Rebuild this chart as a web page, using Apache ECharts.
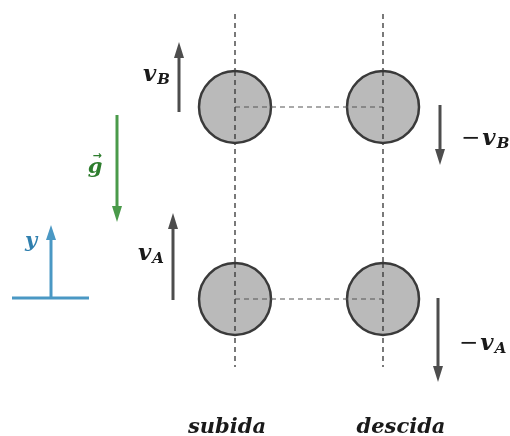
<!DOCTYPE html>
<html><head><meta charset="utf-8">
<script src="https://cdn.jsdelivr.net/npm/echarts@6/dist/echarts.min.js"></script>
<style>html,body{margin:0;padding:0;background:#fff}#c{width:510px;height:436px}</style>
</head><body><div id="c"></div>
<script>
// Diagram data (units: diagram units, y pointing up)
const columns = ['subida', 'descida'];
const columnX = [23.5, 38.3];
const levels = ['A', 'B'];
const levelY = [13.7, 32.9];
const guideTop = [42.2, 42.2];
const guideBottom = [6.9, 6.9];
const ballRadius = 3.6;
// velocity arrows: [x, yStart, yEnd]
const upArrows = [[17.3, 13.6, 22.3], [17.9, 32.4, 39.4]];
const downArrows = [[43.8, 13.8, 5.4], [44.0, 33.1, 27.1]];
const upLabels = ['A', 'B'];
const gravityArrow = [11.7, 32.1, 21.4];
const yAxisArrow = [5.1, 13.8, 21.1];
const yAxisBase = [1.2, 8.9, 13.8];

const chart = echarts.init(document.getElementById('c'));
const mathFont = '"DejaVu Serif", serif';

function arrowShape(api, a, color, width, headLen, headW) {
  const p0 = api.coord([a[0], a[1]]);
  const p1 = api.coord([a[0], a[2]]);
  const dir = p1[1] > p0[1] ? 1 : -1;
  const baseY = p1[1] - dir * headLen;
  return [
    {type: 'line', shape: {x1: p0[0], y1: p0[1], x2: p1[0], y2: baseY}, style: {stroke: color, lineWidth: width}},
    {type: 'polygon', shape: {points: [[p1[0], p1[1]], [p1[0] - headW / 2, baseY], [p1[0] + headW / 2, baseY]]}, style: {fill: color}}
  ];
}
function vlabel(prefix, sub, x, y, align) {
  const txt = (prefix ? '{m|' + prefix + '}' : '') + '{v|v}{s|' + sub + '}';
  return {type: 'text', style: {
    text: txt, x: x, y: y, textAlign: align, textVerticalAlign: 'middle',
    rich: {m: {font: '23px ' + mathFont, fill: '#1a1a1a', padding: [0, 2, 0, 0]},
           v: {font: 'italic bold 23px ' + mathFont, fill: '#1a1a1a'},
           s: {font: 'italic bold 15px ' + mathFont, fill: '#1a1a1a', padding: [10, 0, 0, 1]}}
  }};
}

const option = {
  animation: false,
  grid: {left: 0, right: 0, top: 0, bottom: 0},
  xAxis: {type: 'value', min: 0, max: 51, show: false},
  yAxis: {type: 'value', min: 0, max: 43.6, show: false},
  series: [
    { // vertical guides
      type: 'custom', data: columns.map((c, i) => [columnX[i], guideTop[i], guideBottom[i]]),
      renderItem: (p, api) => {
        const a = api.coord([api.value(0), api.value(1)]), b = api.coord([api.value(0), api.value(2)]);
        return {type: 'line', shape: {x1: a[0], y1: a[1], x2: b[0], y2: b[1]}, style: {stroke: '#333', lineWidth: 1.3, lineDash: [5, 4]}};
      }
    },
    { // balls
      type: 'custom', data: levels.flatMap((l, j) => columns.map((c, i) => [columnX[i], levelY[j]])),
      renderItem: (p, api) => {
        const c = api.coord([api.value(0), api.value(1)]);
        const r = api.size([ballRadius, 0])[0];
        return {type: 'circle', shape: {cx: c[0], cy: c[1], r: r}, style: {fill: '#bababa', stroke: '#3a3a3a', lineWidth: 2.5}};
      }
    },
    { // guides redrawn over balls + horizontal dashed lines
      type: 'custom', data: levels.map((l, j) => [levelY[j]]),
      renderItem: (p, api) => {
        const y = api.value(0);
        const a = api.coord([columnX[0], y]), b = api.coord([columnX[1], y]);
        const els = [{type: 'line', shape: {x1: a[0], y1: a[1], x2: b[0], y2: b[1]}, style: {stroke: '#555', lineWidth: 1.2, lineDash: [5, 4]}}];
        columns.forEach((c, i) => {
          const t = api.coord([columnX[i], y + ballRadius]), u = api.coord([columnX[i], y - ballRadius]);
          els.push({type: 'line', shape: {x1: t[0], y1: t[1], x2: u[0], y2: u[1]}, style: {stroke: '#333', lineWidth: 1.3, lineDash: [5, 4]}});
        });
        return {type: 'group', children: els};
      }
    },
    { // up arrows (subida)
      type: 'custom', data: upArrows,
      renderItem: (p, api) => {
        const a = [api.value(0), api.value(1), api.value(2)];
        const els = arrowShape(api, a, '#4d4d4d', 3, 16, 10);
        const m = api.coord([a[0], (a[1] + a[2]) / 2]);
        els.push(vlabel('', upLabels[p.dataIndex], m[0] - 9, m[1] - 2, 'right'));
        return {type: 'group', children: els};
      }
    },
    { // down arrows (descida)
      type: 'custom', data: downArrows,
      renderItem: (p, api) => {
        const a = [api.value(0), api.value(1), api.value(2)];
        const els = arrowShape(api, a, '#4d4d4d', 3, 16, 10);
        const m = api.coord([a[0], (a[1] + a[2]) / 2]);
        els.push(vlabel('\u2212', upLabels[p.dataIndex], m[0] + 21, m[1] + 4, 'left'));
        return {type: 'group', children: els};
      }
    },
    { // gravity
      type: 'custom', data: [gravityArrow],
      renderItem: (p, api) => {
        const a = [api.value(0), api.value(1), api.value(2)];
        const els = arrowShape(api, a, '#4a9a4a', 3, 16, 10);
        const m = api.coord([a[0], (a[1] + a[2]) / 2]);
        els.push({type: 'text', style: {text: 'g', x: m[0] - 22, y: m[1] - 1, textAlign: 'center', textVerticalAlign: 'middle', font: 'italic bold 21px ' + mathFont, fill: '#2e7d2e'}});
        els.push({type: 'text', style: {text: '\u2192', x: m[0] - 20, y: m[1] - 12, textAlign: 'center', textVerticalAlign: 'middle', font: 'bold 11px "DejaVu Sans"', fill: '#2e7d2e'}});
        return {type: 'group', children: els};
      }
    },
    { // y axis
      type: 'custom', data: [yAxisArrow],
      renderItem: (p, api) => {
        const a = [api.value(0), api.value(1), api.value(2)];
        const els = arrowShape(api, a, '#4a98c4', 3, 15, 10);
        const l = api.coord([yAxisBase[0], yAxisBase[2]]), r = api.coord([yAxisBase[1], yAxisBase[2]]);
        els.push({type: 'line', shape: {x1: l[0], y1: l[1], x2: r[0], y2: r[1]}, style: {stroke: '#4a98c4', lineWidth: 3}});
        const t = api.coord([a[0], a[2]]);
        els.push({type: 'text', style: {text: 'y', x: t[0] - 20, y: t[1] + 17, textAlign: 'center', textVerticalAlign: 'middle', font: 'italic bold 21px ' + mathFont, fill: '#2f7fae'}});
        return {type: 'group', children: els};
      }
    },
    { // column titles
      type: 'custom', data: columns.map((c, i) => [columnX[i], guideBottom[i]]),
      renderItem: (p, api) => {
        const c = api.coord([api.value(0), api.value(1)]);
        return {type: 'text', style: {text: columns[p.dataIndex], x: c[0] - 8 + p.dataIndex * 26, y: c[1] + 61, textAlign: 'center', textVerticalAlign: 'middle', font: 'italic bold 21px ' + mathFont, fill: '#1a1a1a'}};
      }
    }
  ]
};
chart.setOption(option);
</script></body></html>
